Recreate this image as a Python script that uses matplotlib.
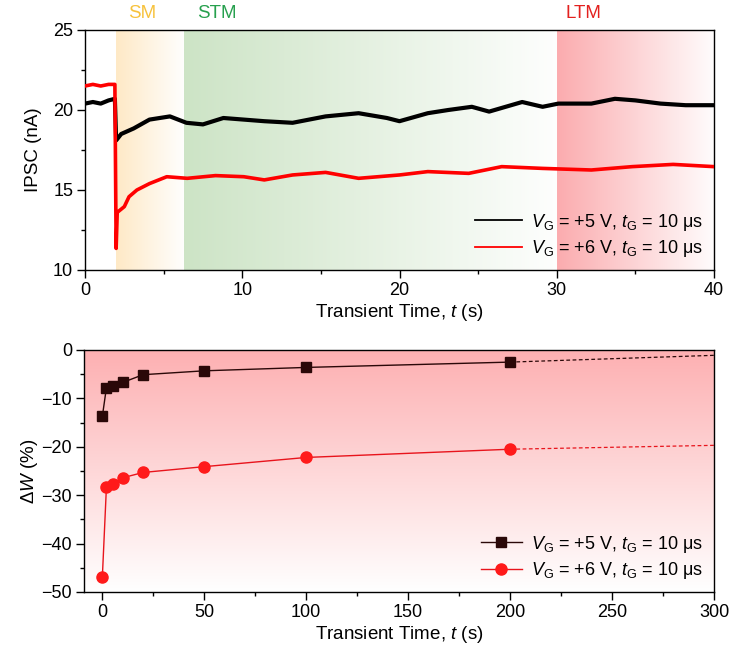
import numpy as np
import matplotlib
matplotlib.use("Agg")
import matplotlib.pyplot as plt
from matplotlib.colors import LinearSegmentedColormap
from matplotlib.ticker import MultipleLocator


plt.rcParams["font.family"] = ["Liberation Sans", "DejaVu Sans"]
plt.rcParams["mathtext.fontset"] = "custom"
plt.rcParams["mathtext.rm"] = "Liberation Sans"
plt.rcParams["mathtext.it"] = "Liberation Sans:italic"
plt.rcParams["mathtext.bf"] = "Liberation Sans:bold"

# top panel: IPSC traces
T_BLACK = [0, 0.5, 1.0, 1.5, 1.9, 1.98, 2.3, 3.1, 4.1, 5.4, 6.45, 7.5, 8.8, 10.1, 11.4,
           13.2, 15.3, 17.4, 19.2, 20.0, 21.8, 23.1, 24.6, 25.7, 27.8, 29.1, 30.1,
           32.2, 33.7, 35.0, 36.6, 38.2, 40.0]
I_BLACK = [20.4, 20.5, 20.4, 20.6, 20.7, 18.1, 18.5, 18.85, 19.4, 19.6, 19.2, 19.1, 19.5,
           19.4, 19.3, 19.2, 19.6, 19.8, 19.5, 19.3, 19.8, 20.0, 20.2, 19.9, 20.5, 20.2,
           20.4, 20.4, 20.7, 20.6, 20.4, 20.3, 20.3]

T_RED = [0, 0.5, 1.0, 1.5, 1.9, 1.98, 2.05, 2.5, 2.8, 3.3, 4.1, 5.2, 6.5, 8.3, 10.1,
         11.4, 13.2, 15.3, 17.4, 20.0, 21.8, 24.4, 26.5, 29.1, 32.2, 34.8, 37.4, 40.0]
I_RED = [21.5, 21.6, 21.5, 21.6, 21.6, 11.35, 13.6, 13.96, 14.58, 15.0, 15.4, 15.83, 15.73,
         15.9, 15.83, 15.63, 15.94, 16.1, 15.73, 15.94, 16.15, 16.04, 16.46, 16.35, 16.25,
         16.46, 16.6, 16.46]

# bottom panel: weight change
T_W = [0, 2, 5, 10, 20, 50, 100, 200]
W_BLACK = [-13.7, -7.8, -7.5, -6.7, -5.1, -4.3, -3.6, -2.5]
W_RED = [-46.9, -28.3, -27.7, -26.4, -25.3, -24.1, -22.2, -20.5]
T_EXT = [200, 300]
W_BLACK_EXT = [-2.5, -1.1]
W_RED_EXT = [-20.5, -19.7]

LABEL_5V = r"$\mathit{V}_\mathrm{G}$ = +5 V, $\mathit{t}_\mathrm{G}$ = 10 μs"
LABEL_6V = r"$\mathit{V}_\mathrm{G}$ = +6 V, $\mathit{t}_\mathrm{G}$ = 10 μs"

# memory regions: (start, end, colour, label, label x, label colour)
REGIONS = [
    (1.98, 6.3, "#FEE9C6", "SM", 3.65, "#F7C23C"),
    (6.3, 30.0, "#CDE4C6", "STM", 8.4, "#27A04E"),
    (30.0, 40.0, "#FBACAF", "LTM", 31.7, "#E3211F"),
]

TICK_SIZE = 13
LABEL_SIZE = 13.5
LEGEND_SIZE = 13


def hgradient(ax, x0, x1, y0, y1, color):
    cmap = LinearSegmentedColormap.from_list("g", [color, "#FFFFFF"])
    grad = np.linspace(0, 0.97, 256).reshape(1, -1)
    ax.imshow(grad, extent=(x0, x1, y0, y1), aspect="auto", cmap=cmap, vmin=0, vmax=1,
              origin="lower", zorder=0, interpolation="bicubic")


def vgradient(ax, x0, x1, y0, y1, color):
    cmap = LinearSegmentedColormap.from_list("g", ["#FFFFFF", color])
    grad = np.linspace(0, 1, 256).reshape(-1, 1)
    ax.imshow(grad, extent=(x0, x1, y0, y1), aspect="auto", cmap=cmap,
              origin="lower", zorder=0, interpolation="bicubic")


def style_axes(ax):
    ax.tick_params(which="both", direction="out", labelsize=TICK_SIZE, top=False, right=False)
    ax.tick_params(which="major", length=5.5, width=1, pad=3)
    ax.tick_params(which="minor", length=3, width=1)
    for sp in ax.spines.values():
        sp.set_linewidth(1)


def draw_top(ax):
    for x0, x1, color, name, lx, lcolor in REGIONS:
        hgradient(ax, x0, x1, 10, 25, color)
        ax.text(lx, 26.0, name, color=lcolor, fontsize=13.5, ha="center", va="center")

    ax.plot(T_BLACK, I_BLACK, color="black", lw=3.0, label=LABEL_5V, zorder=3,
            solid_joinstyle="round")
    ax.plot(T_RED, I_RED, color="#FF0000", lw=2.6, label=LABEL_6V, zorder=3,
            solid_joinstyle="round")

    ax.set_xlim(0, 40)
    ax.set_ylim(10, 25)
    ax.xaxis.set_major_locator(MultipleLocator(10))
    ax.xaxis.set_minor_locator(MultipleLocator(5))
    ax.yaxis.set_major_locator(MultipleLocator(5))
    ax.yaxis.set_minor_locator(MultipleLocator(2.5))
    ax.set_xlabel(r"Transient Time, $\mathit{t}$ (s)", fontsize=LABEL_SIZE, labelpad=2)
    ax.set_ylabel("IPSC (nA)", fontsize=LABEL_SIZE, labelpad=8)
    leg = ax.legend(loc="lower right", frameon=False, fontsize=LEGEND_SIZE, handlelength=2.6,
                    handletextpad=0.5, borderaxespad=0.2, labelspacing=0.3)
    for line in leg.get_lines():
        line.set_linewidth(1.3)
    style_axes(ax)


def draw_bottom(ax):
    vgradient(ax, -9, 300, -50, 0, "#FDB0B2")

    ax.plot(T_EXT, W_BLACK_EXT, color="#2A0808", lw=0.9, ls=(0, (3, 2)), zorder=2)
    ax.plot(T_EXT, W_RED_EXT, color="#E8141C", lw=0.9, ls=(0, (3, 2)), zorder=2)
    ax.plot(T_W, W_BLACK, color="#2A0808", lw=1.0, marker="s", ms=6.8, label=LABEL_5V, zorder=3)
    ax.plot(T_W, W_RED, color="#E8141C", lw=1.0, marker="o", ms=8, mec="#FF1A1A",
            mfc="#FF1A1A", label=LABEL_6V, zorder=3)

    ax.set_xlim(-9, 300)
    ax.set_ylim(-50, 0)
    ax.xaxis.set_major_locator(MultipleLocator(50))
    ax.xaxis.set_minor_locator(MultipleLocator(25))
    ax.yaxis.set_major_locator(MultipleLocator(10))
    ax.yaxis.set_minor_locator(MultipleLocator(5))
    ax.set_xlabel(r"Transient Time, $\mathit{t}$ (s)", fontsize=LABEL_SIZE, labelpad=2)
    ax.set_ylabel(r"$\Delta\mathit{W}$ (%)", fontsize=LABEL_SIZE, labelpad=1)
    ax.legend(loc="lower right", frameon=False, fontsize=LEGEND_SIZE, handlelength=2.3,
              handletextpad=0.5, borderaxespad=0.2, labelspacing=0.3)
    style_axes(ax)


def main():
    fig = plt.figure(figsize=(7.34, 6.58), dpi=100)
    ax_top = fig.add_axes([85 / 734, 1 - 270 / 658, 629 / 734, 240 / 658])
    ax_bot = fig.add_axes([84 / 734, 1 - 592 / 658, 630 / 734, 242 / 658])
    draw_top(ax_top)
    draw_bottom(ax_bot)
    fig.savefig("out.png", dpi=100)
    plt.close(fig)


if __name__ == "__main__":
    main()
